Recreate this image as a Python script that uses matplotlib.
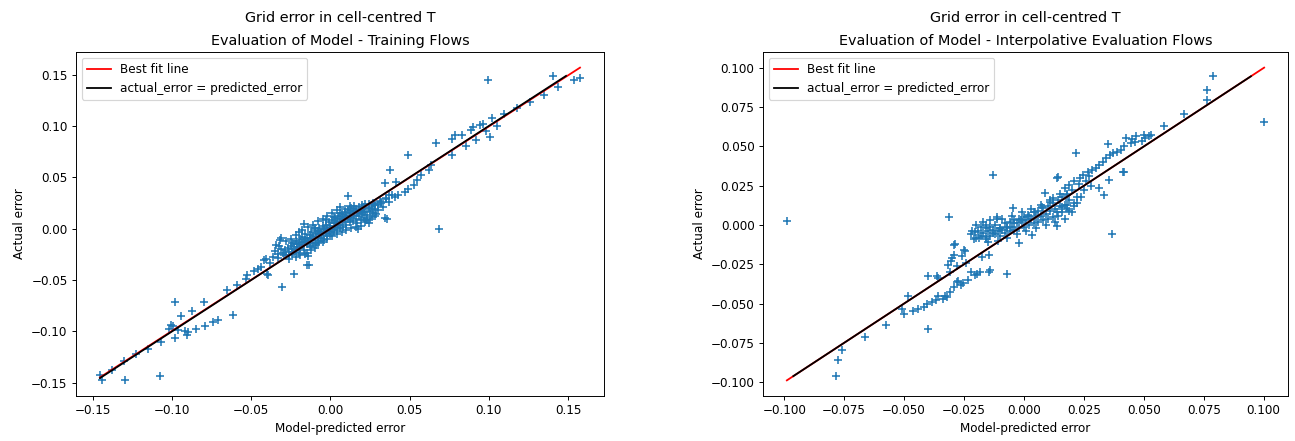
import numpy as np
import matplotlib
matplotlib.use("Agg")
import matplotlib.pyplot as plt

# ---- training flows: (model-predicted error, actual error)
train_pts = [
    # upper tail
    (0.0995, 0.1444), (0.1407, 0.1487), (0.1536, 0.1444), (0.1575, 0.1467), (0.1433, 0.1380),
    (0.1345, 0.1298), (0.1258, 0.1233), (0.1180, 0.1170), (0.1098, 0.1120), (0.1050, 0.0996),
    (0.1017, 0.1078), (0.0963, 0.1022), (0.0941, 0.1006), (0.0897, 0.0990), (0.0886, 0.0957),
    (0.0984, 0.0948), (0.1006, 0.0893), (0.0919, 0.0860), (0.0853, 0.0805), (0.0831, 0.0909),
    (0.0788, 0.0915), (0.0766, 0.0876), (0.0667, 0.0837), (0.0766, 0.0720), (0.0492, 0.0720),
    (0.0634, 0.0617), (0.0623, 0.0568), (0.0569, 0.0519), (0.0547, 0.0471), (0.0525, 0.0422),
    (0.0492, 0.0389), (0.0470, 0.0357), (0.0427, 0.0325), (0.0372, 0.0325), (0.0350, 0.0292),
    (0.0317, 0.0260), (0.0284, 0.0227), (0.0263, 0.0195), (0.0230, 0.0081), (0.0175, 0.0000),
    (0.0208, 0.0162), (0.0273, 0.0243), (0.0374, 0.0574), (0.0342, 0.0444), (0.0416, 0.0454),
    (0.0108, 0.0315), (0.0225, 0.0081), (0.0354, 0.0097), (0.0686, 0.0000), (0.0342, 0.0107),
    # central cluster
    (-0.030, -0.024), (-0.029, -0.021), (-0.028, -0.026), (-0.027, -0.019), (-0.026, -0.023),
    (-0.025, -0.017), (-0.024, -0.025), (-0.024, -0.020), (-0.023, -0.015), (-0.022, -0.021),
    (-0.022, -0.012), (-0.021, -0.018), (-0.020, -0.024), (-0.020, -0.014), (-0.019, -0.010),
    (-0.019, -0.019), (-0.018, -0.016), (-0.018, -0.008), (-0.017, -0.013), (-0.017, -0.021),
    (-0.016, -0.011), (-0.016, -0.005), (-0.015, -0.015), (-0.015, -0.009), (-0.014, -0.027),
    (-0.014, -0.012), (-0.013, -0.006), (-0.013, -0.017), (-0.012, -0.010), (-0.012, -0.003),
    (-0.011, -0.014), (-0.011, -0.007), (-0.010, -0.011), (-0.010, -0.001), (-0.009, -0.005),
    (-0.009, -0.016), (-0.008, -0.008), (-0.008, -0.002), (-0.007, -0.012), (-0.007, 0.001),
    (-0.006, -0.004), (-0.006, -0.009), (-0.005, 0.003), (-0.005, -0.006), (-0.004, -0.001),
    (-0.004, -0.011), (-0.003, 0.004), (-0.003, -0.004), (-0.002, 0.001), (-0.002, -0.007),
    (-0.001, 0.006), (-0.001, -0.002), (0.000, 0.003), (0.000, -0.005), (0.001, 0.008),
    (0.001, 0.000), (0.002, 0.005), (0.002, -0.003), (0.003, 0.010), (0.003, 0.002),
    (0.004, 0.007), (0.004, -0.001), (0.005, 0.012), (0.005, 0.004), (0.006, 0.009),
    (0.006, 0.001), (0.007, 0.014), (0.007, 0.006), (0.008, 0.011), (0.008, 0.002),
    (0.009, 0.016), (0.009, 0.008), (0.010, 0.013), (0.010, 0.004), (0.011, 0.018),
    (0.011, 0.009), (0.012, 0.015), (0.012, 0.006), (0.013, 0.020), (0.013, 0.011),
    (0.014, 0.017), (0.014, 0.007), (0.015, 0.022), (0.015, 0.013), (0.016, 0.019),
    (0.016, 0.009), (0.017, 0.015), (0.017, 0.005), (0.018, 0.021), (0.018, 0.012),
    (0.019, 0.017), (0.019, 0.008), (0.020, 0.023), (0.020, 0.014), (0.021, 0.019),
    (0.021, 0.010), (0.022, 0.016), (0.022, 0.024), (0.023, 0.013), (0.024, 0.020),
    (0.024, 0.005), (0.025, 0.017), (0.026, 0.022), (0.026, 0.011), (0.027, 0.025),
    (0.028, 0.019), (0.029, 0.014), (0.030, 0.023), (0.031, 0.027), (0.033, 0.021),
    (0.035, 0.030), (0.037, 0.026), (0.039, 0.033), (0.041, 0.031),
    (-0.0167, 0.0049), (-0.012, -0.021), (-0.015, -0.024), (-0.010, -0.019),
    (-0.028, -0.012), (-0.025, -0.010), (-0.022, -0.006), (-0.020, -0.003), (-0.018, -0.001),
    (-0.014, 0.002), (-0.011, 0.004), (-0.008, 0.007), (-0.005, 0.009), (-0.002, 0.012),
    (0.001, 0.015), (0.004, 0.018), (0.006, 0.021), (-0.026, -0.030), (-0.022, -0.028),
    (-0.019, -0.026), (-0.016, -0.025), (-0.012, -0.018), (-0.008, -0.014), (-0.005, -0.013),
    (-0.002, -0.010), (0.001, -0.007), (0.004, -0.005), (0.007, -0.003), (0.010, -0.001),
    (0.013, 0.001), (0.016, 0.002), (0.019, 0.003), (0.022, 0.006), (0.025, 0.009),
    (0.028, 0.012), (-0.003, 0.008), (0.002, 0.011), (0.006, 0.015), (0.009, 0.019),
    (0.012, 0.022), (-0.010, 0.001), (-0.007, -0.003), (-0.004, 0.000), (0.000, 0.001),
    (0.003, 0.005), (0.006, 0.006), (0.009, 0.010), (0.012, 0.012), (0.015, 0.016),
    (-0.013, -0.009), (-0.016, -0.013), (-0.021, -0.015), (-0.024, -0.014), (0.018, 0.018),
    (0.021, 0.021), (0.024, 0.024), (0.027, 0.015), (0.030, 0.018), (0.032, 0.025),
    (-0.031, -0.020), (-0.033, -0.025), (-0.035, -0.022),
    # lower tail
    (-0.0316, -0.0107), (-0.0342, -0.0163), (-0.0231, -0.0438), (-0.0146, -0.0350),
    (-0.0401, -0.0438), (-0.0422, -0.0309), (-0.0311, -0.0091), (-0.0328, -0.0169),
    (-0.0230, -0.0227), (-0.0263, -0.0253), (-0.0295, -0.0260), (-0.0138, -0.0351),
    (-0.0306, -0.0568), (-0.0394, -0.0454), (-0.0405, -0.0299), (-0.0459, -0.0390),
    (-0.0525, -0.0454), (-0.0536, -0.0487), (-0.0591, -0.0545), (-0.0656, -0.0600),
    (-0.036, -0.028), (-0.038, -0.033), (-0.044, -0.037), (-0.048, -0.041), (-0.033, -0.029),
    (-0.0613, -0.0837), (-0.0711, -0.0893), (-0.0744, -0.0909), (-0.0792, -0.0948),
    (-0.0849, -0.0980), (-0.0897, -0.1006), (-0.0919, -0.1000), (-0.0963, -0.0990),
    (-0.0995, -0.0948), (-0.1017, -0.0980), (-0.1006, -0.0935), (-0.0980, -0.0714),
    (-0.0799, -0.0714), (-0.0941, -0.0854), (-0.0875, -0.0805), (-0.0984, -0.1065),
    (-0.0908, -0.1032), (-0.1072, -0.1104), (-0.1149, -0.1168), (-0.1225, -0.1224),
    (-0.1306, -0.1289), (-0.1378, -0.1379), (-0.1455, -0.1428), (-0.1444, -0.1470),
    (-0.1297, -0.1477), (-0.1079, -0.1438),
]

# ---- interpolative evaluation flows
interp_pts = [
    # upper tail
    (0.0790, 0.0947), (0.0762, 0.0857), (0.0762, 0.0798), (0.0666, 0.0706), (0.0583, 0.0628),
    (0.1002, 0.0653), (0.0528, 0.0574), (0.0521, 0.0564), (0.0506, 0.0553), (0.0491, 0.0536),
    (0.0469, 0.0564), (0.0462, 0.0528), (0.0425, 0.0553), (0.0447, 0.0521), (0.0417, 0.0500),
    (0.0403, 0.0479), (0.0388, 0.0468), (0.0373, 0.0457), (0.0358, 0.0447), (0.0343, 0.0426),
    (0.0329, 0.0404), (0.0314, 0.0383), (0.0299, 0.0362), (0.0284, 0.0351), (0.0269, 0.0340),
    (0.0247, 0.0319), (0.0232, 0.0298), (0.0210, 0.0281), (0.0188, 0.0255), (0.0351, 0.0515),
    (0.0216, 0.0459), (0.0414, 0.0336), (0.0355, 0.0287), (0.0314, 0.0234), (0.0336, 0.0191),
    (0.0366, -0.0060), (0.0139, 0.0298), (-0.0130, 0.0319), (0.0089, 0.0202), (0.0173, 0.0234),
    (0.0178, 0.0191), (0.0210, 0.0138), (0.0181, 0.0128), (0.0136, 0.0085), (0.0136, -0.0004),
    (-0.0046, 0.0111), (-0.0112, 0.0038), (-0.0312, 0.0053), (-0.0989, 0.0026),
    (0.0140, 0.0304), (0.0416, 0.0340), (0.0450, 0.0548), (0.0500, 0.0570),
    # central cluster
    (-0.0160, 0.0000), (-0.0204, -0.0043), (-0.0189, -0.0085), (-0.0160, -0.0074),
    (-0.0130, -0.0053), (-0.0101, -0.0021), (-0.0071, -0.0011), (-0.0041, 0.0011),
    (-0.0012, 0.0032), (0.0018, 0.0064), (0.0047, 0.0085), (0.0077, 0.0117),
    (0.0107, 0.0149), (0.0121, 0.0170), (0.0158, 0.0117), (0.0033, -0.0064), (-0.0019, -0.0117),
    (-0.022, -0.006), (-0.021, -0.009), (-0.020, -0.008), (-0.019, -0.004), (-0.018, -0.001),
    (-0.018, -0.007), (-0.017, -0.005), (-0.016, -0.002), (-0.016, -0.009), (-0.015, -0.004),
    (-0.014, -0.001), (-0.014, -0.007), (-0.013, -0.003), (-0.012, -0.006), (-0.012, 0.000),
    (-0.011, -0.004), (-0.010, -0.002), (-0.010, -0.007), (-0.009, -0.003), (-0.008, 0.001),
    (-0.008, -0.005), (-0.007, -0.002), (-0.006, 0.002), (-0.006, -0.004), (-0.005, -0.001),
    (-0.004, 0.003), (-0.004, -0.003), (-0.003, 0.001), (-0.002, 0.004), (-0.002, -0.002),
    (-0.001, 0.002), (0.000, 0.005), (0.000, -0.001), (0.001, 0.003), (0.002, 0.006),
    (0.002, 0.000), (0.003, 0.004), (0.004, 0.008), (0.004, 0.001), (0.005, 0.005),
    (0.006, 0.009), (0.006, 0.002), (0.007, 0.006), (0.008, 0.011), (0.008, 0.003),
    (0.009, 0.007), (0.010, 0.012), (0.010, 0.004), (0.011, 0.009), (0.012, 0.014),
    (0.012, 0.005), (0.013, 0.010), (0.014, 0.016), (0.014, 0.006), (0.015, 0.012),
    (0.016, 0.018), (0.016, 0.008), (0.017, 0.013), (0.018, 0.020), (0.018, 0.010),
    (0.019, 0.016), (0.020, 0.022), (0.021, 0.012), (0.022, 0.018), (0.023, 0.026),
    (0.025, 0.022), (0.026, 0.028), (0.027, 0.031), (0.028, 0.025),
    (-0.0218, -0.0036), (-0.0286, -0.0121), (-0.0245, -0.0164), (-0.0114, 0.0049),
    (-0.020, 0.000), (-0.017, 0.002), (-0.014, 0.003), (-0.009, 0.004), (-0.005, 0.006),
    (-0.001, 0.008), (0.003, 0.010), (0.007, 0.013), (0.011, 0.016), (0.015, 0.020),
    (-0.015, -0.011), (-0.011, -0.010), (-0.007, -0.008), (-0.003, -0.006), (0.001, -0.004),
    (0.005, -0.002), (0.009, 0.000), (0.013, 0.002), (0.017, 0.004), (0.020, 0.008),
    (-0.026, -0.020), (-0.028, -0.026), (-0.031, -0.030), (-0.024, -0.024), (0.019, 0.009),
    (0.022, 0.014), (0.024, 0.018),
    # lower tail
    (-0.0290, -0.0128), (-0.0249, -0.0160), (-0.0293, -0.0191), (-0.0300, -0.0213),
    (-0.0315, -0.0255), (-0.0175, -0.0202), (-0.0145, -0.0191), (-0.0182, -0.0298),
    (-0.0145, -0.0298), (-0.0071, -0.0309), (-0.0401, -0.0323), (-0.0360, -0.0336),
    (-0.0278, -0.0362), (-0.0263, -0.0383), (-0.0293, -0.0394), (-0.0308, -0.0426),
    (-0.0323, -0.0457), (-0.0337, -0.0468), (-0.0367, -0.0479), (-0.0382, -0.0489),
    (-0.0404, -0.0500), (-0.0219, -0.0298), (-0.0204, -0.0319), (-0.0234, -0.0351),
    (-0.0273, -0.0355), (-0.0255, -0.0370), (-0.0362, -0.0327), (-0.0197, -0.0313),
    (-0.0142, -0.0287), (-0.0328, -0.0451), (-0.0360, -0.0455), (-0.0306, -0.0227),
    (-0.0482, -0.0451), (-0.0508, -0.0532), (-0.0500, -0.0564), (-0.0463, -0.0549),
    (-0.0441, -0.0532), (-0.0419, -0.0521), (-0.0400, -0.0664), (-0.0574, -0.0634),
    (-0.0663, -0.0713), (-0.0759, -0.0798), (-0.0774, -0.0862), (-0.0786, -0.0962),
]

# best-fit line coefficients (slope, intercept)
train_fit = (0.995, 0.0)
interp_fit = (1.0, 0.0)

titles = ["Grid error in cell-centred T\nEvaluation of Model - Training Flows",
          "Grid error in cell-centred T\nEvaluation of Model - Interpolative Evaluation Flows"]

dpi = 1295 / 15
fig = plt.figure(figsize=(15, 441 / dpi), dpi=dpi)
ax1 = fig.add_axes([76 / 1295, 45 / 441, 528 / 1295, 344 / 441])
ax2 = fig.add_axes([763 / 1295, 45 / 441, 525 / 1295, 344 / 441])

for ax, pts, fit, title in zip([ax1, ax2], [train_pts, interp_pts], [train_fit, interp_fit], titles):
    pts = np.array(pts)
    x, y = pts[:, 0], pts[:, 1]
    ax.scatter(x, y, marker="+", color="C0", s=44, linewidths=1.3)
    xf = np.array([x.min(), x.max()])
    ax.plot(xf, fit[0] * xf + fit[1], color="red", label="Best fit line")
    lo, hi = max(x.min(), y.min()), min(x.max(), y.max())
    ax.plot([lo, hi], [lo, hi], color="black", label="actual_error = predicted_error")
    ax.set_title(title, linespacing=1.8)
    ax.set_xlabel("Model-predicted error")
    ax.set_ylabel("Actual error")
    ax.legend(loc="upper left")

fig.savefig("out.png", dpi=dpi)
